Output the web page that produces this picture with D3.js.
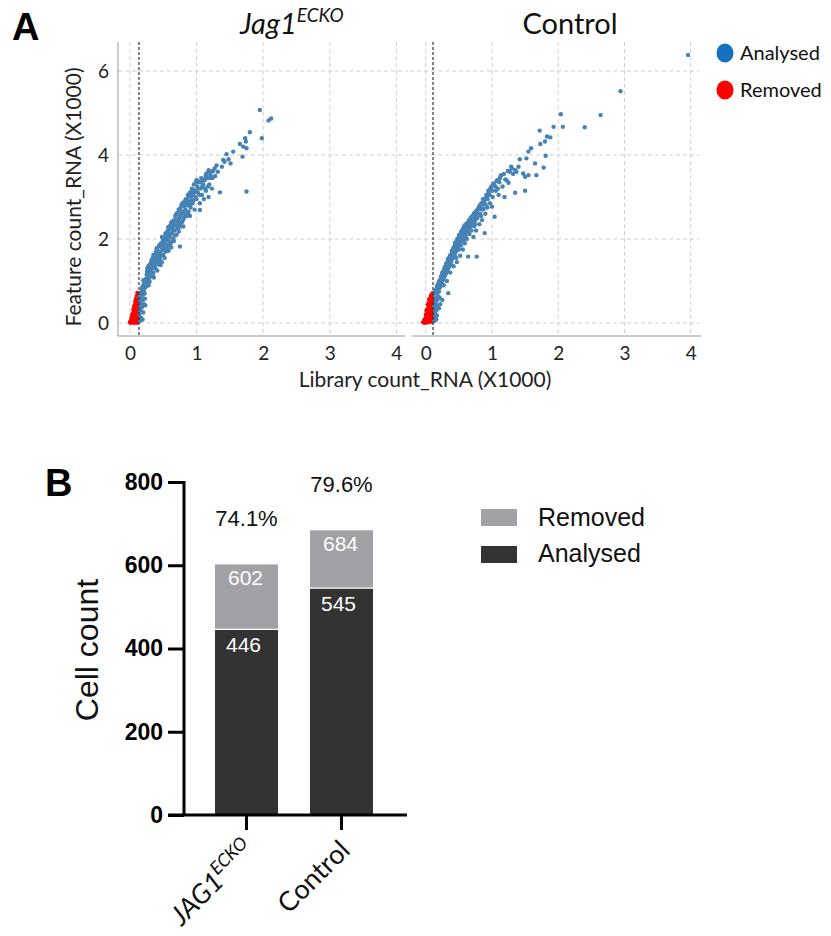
<!DOCTYPE html>
<html><head><meta charset="utf-8">
<script src="https://cdn.jsdelivr.net/npm/d3@7"></script>
<style>body{margin:0;background:#fff}svg{display:block}</style>
</head><body>
<svg id="c" width="831" height="936"></svg>
<script>
// ---------- Panel A data (Library count, Feature count, in X1000) ----------
const jagAnalysed = [
[0.15,0.05],[0.17,0.12],[0.14,0.2],[0.19,0.08],[0.16,0.3],[0.18,0.38],[0.21,0.45],[0.15,0.5],[0.23,0.42],[0.2,0.25],[0.14,0.62],[0.17,0.55],
[0.16,0.72],[0.18,0.8],[0.2,0.9],[0.19,0.68],[0.21,0.78],[0.22,0.95],[0.2,1.02],[0.23,0.85],[0.24,1.05],[0.22,0.7],
[0.25,1.15],[0.26,0.95],[0.27,1.25],[0.28,1.05],[0.26,1.3],[0.29,1.2],[0.3,1.4],[0.28,0.9],[0.31,1.1],[0.3,1.28],[0.27,1.12],[0.32,1.48],[0.33,1.3],
[0.34,1.55],[0.35,1.2],[0.36,1.4],[0.35,1.62],[0.37,1.5],[0.38,1.3],[0.39,1.7],[0.4,1.45],[0.38,1.58],[0.41,1.25],[0.4,1.78],[0.42,1.62],[0.36,1.08],[0.43,1.4],
[0.44,1.85],[0.45,1.55],[0.46,1.7],[0.47,1.9],[0.48,1.45],[0.46,1.38],[0.49,1.8],[0.5,2.0],[0.5,1.62],[0.48,2.05],[0.51,1.75],[0.52,1.9],[0.53,2.12],[0.52,1.55],[0.54,1.7],
[0.55,2.05],[0.56,1.85],[0.57,2.2],[0.58,1.95],[0.56,2.15],[0.59,2.3],[0.6,2.05],[0.58,1.72],[0.61,1.9],[0.6,2.25],[0.62,2.4],[0.63,2.15],[0.62,1.8],
[0.64,2.3],[0.65,2.0],[0.66,2.45],[0.67,2.2],[0.68,2.55],[0.69,2.35],[0.7,2.1],[0.7,2.6],[0.71,2.45],[0.72,2.25],[0.73,2.7],[0.66,1.95],
[0.74,2.5],[0.75,2.35],[0.76,2.75],[0.77,2.6],[0.78,2.4],[0.79,2.85],[0.8,2.65],[0.81,2.5],[0.82,2.9],[0.8,2.3],
[0.83,2.7],[0.84,2.95],[0.85,2.55],[0.86,2.8],[0.87,3.05],[0.88,2.65],[0.89,2.9],[0.9,3.1],[0.91,2.75],[0.92,3.0],[0.9,2.55],
[0.93,3.2],[0.94,2.85],[0.95,3.05],[0.96,3.3],[0.97,2.7],[0.98,3.15],[0.99,3.35],[1.0,2.95],[1.01,3.25],[1.0,3.4],[1.02,3.1],
[1.03,3.35],[1.05,2.85],[1.06,3.2],[1.07,3.45],[1.08,3.05],[1.1,3.3],[1.11,2.95],[1.12,3.4],[1.14,3.15],[1.15,3.55],[1.17,3.25],[1.18,3.0],[1.2,3.45],[1.22,3.6],[1.25,3.62],[1.23,3.2],[1.05,2.69],
[1.28,3.5],[1.3,3.75],[1.38,3.72],[1.4,3.88],[1.45,4.02],[1.51,3.8],[1.35,3.11],[1.55,4.08],[1.65,4.26],[1.69,3.96],[1.7,4.2],[1.73,4.4],[1.74,4.32],[1.75,4.16],[1.75,3.13],
[1.8,4.54],[1.95,5.07],[1.98,4.4],[2.08,4.82],[2.12,4.87],[0.75,1.82],[1.18,3.64],[1.2,3.6],[1.15,3.56],
[0.185,0.86],[0.205,0.72],[0.215,0.98],[0.235,1.0],[0.245,0.88],[0.255,1.22],[0.265,1.02],[0.275,1.35],[0.285,1.18],[0.295,0.98],[0.305,1.32],[0.315,1.22],
[0.325,1.38],[0.335,1.5],[0.345,1.15],[0.355,1.45],[0.365,1.58],[0.375,1.35],[0.385,1.66],[0.395,1.52],[0.405,1.6],[0.415,1.72],[0.425,1.5],[0.435,1.82],
[0.445,1.68],[0.455,1.48],[0.465,1.88],[0.475,1.62],[0.485,1.78],[0.495,1.95],[0.505,1.85],[0.515,2.02],[0.525,1.72],[0.535,1.98],[0.545,2.15],[0.555,1.78],
[0.565,2.0],[0.575,2.28],[0.585,2.1],[0.595,1.85],[0.605,2.32],[0.615,2.12],[0.625,2.25],[0.635,1.95],[0.645,2.42],[0.655,2.22],[0.665,2.35],[0.675,2.08],
[0.685,2.45],[0.695,2.58],[0.705,2.3],[0.715,2.62],[0.725,2.42],[0.735,2.18],[0.745,2.68],[0.755,2.55],[0.765,2.3],[0.775,2.82],[0.785,2.62],[0.795,2.45],
[0.815,2.78],[0.825,2.58],[0.845,2.82],[0.855,2.95],[0.865,2.62],[0.875,2.88],[0.895,3.02],[0.905,2.82],[0.915,3.12],[0.925,2.9],[0.945,3.18],[0.955,2.92],
[0.965,3.12],[0.985,3.0],[1.015,3.38],[1.025,3.2],[1.045,3.05],[1.065,3.35],[1.085,3.25],[1.105,3.42],[1.125,3.2],[1.135,3.5],[1.165,3.45],[1.19,3.3],
[1.21,3.52],[1.24,3.45],[1.27,3.68],[1.32,3.6],[1.42,3.84],[1.48,3.9],[0.145,0.35],[0.165,0.45],[0.175,0.62],[0.195,0.55],[0.155,0.65],[0.225,0.58]
];
const jagRemoved = [
[0.0,0.02],[0.01,0.05],[0.02,0.03],[0.03,0.08],[0.04,0.02],[0.05,0.06],[0.06,0.1],[0.07,0.04],[0.08,0.08],[0.09,0.03],[0.1,0.06],[0.11,0.1],[0.12,0.05],
[0.02,0.12],[0.04,0.15],[0.06,0.18],[0.08,0.14],[0.1,0.2],[0.12,0.16],[0.03,0.2],[0.05,0.25],[0.07,0.28],[0.09,0.24],[0.11,0.3],[0.13,0.22],
[0.05,0.32],[0.07,0.36],[0.09,0.4],[0.11,0.38],[0.12,0.44],[0.06,0.4],[0.08,0.46],[0.1,0.5],[0.12,0.55],[0.08,0.52],[0.09,0.58],[0.11,0.6],
[0.1,0.64],[0.12,0.68],[0.11,0.72],[0.13,0.62],[0.13,0.35],[0.13,0.08],[0.01,0.0],[0.06,0.0],[0.1,0.0],[0.04,0.1],[0.07,0.2],[0.09,0.32],
[0.1,0.42],[0.12,0.28],[0.11,0.52],[0.13,0.48]
];
const ctlAnalysed = [
[0.13,0.05],[0.15,0.12],[0.14,0.22],[0.16,0.3],[0.13,0.4],[0.17,0.18],[0.15,0.5],[0.18,0.42],[0.14,0.6],[0.2,0.35],[0.16,0.08],[0.34,0.71],[0.25,0.55],[0.21,0.6],
[0.13,0.72],[0.15,0.78],[0.16,0.7],[0.17,0.88],[0.18,0.8],[0.19,0.95],[0.2,0.75],[0.21,1.0],[0.22,0.88],[0.23,1.1],[0.24,0.95],[0.25,1.2],[0.26,1.05],[0.27,0.9],
[0.28,1.28],[0.29,1.12],[0.3,1.35],[0.31,1.2],[0.32,1.0],[0.33,1.45],[0.34,1.3],[0.35,1.55],[0.36,1.38],[0.37,1.2],[0.38,1.62],[0.39,1.48],[0.4,1.72],[0.41,1.55],
[0.42,1.35],[0.43,1.8],[0.44,1.62],[0.45,1.9],[0.46,1.7],[0.47,1.45],[0.48,1.95],[0.49,1.8],[0.5,2.05],[0.51,1.88],[0.52,1.6],[0.53,2.12],[0.54,1.95],[0.55,2.2],
[0.56,1.75],[0.57,2.05],[0.58,2.28],[0.59,1.9],[0.6,2.15],[0.61,2.35],[0.62,2.0],[0.63,2.25],[0.64,1.58],[0.65,2.42],[0.66,2.12],[0.67,2.32],[0.68,2.5],[0.69,2.2],
[0.7,2.4],[0.71,2.55],[0.72,2.05],[0.73,2.3],[0.74,2.62],[0.75,2.45],[0.76,2.2],[0.77,2.68],[0.78,2.5],[0.8,2.75],[0.81,2.35],[0.82,2.6],[0.84,2.85],[0.85,2.45],
[0.86,2.7],[0.88,2.9],[0.89,2.14],[0.9,2.6],[0.92,3.0],[0.93,2.75],[0.95,3.1],[0.97,2.85],[0.99,3.25],[1.0,2.77],[1.01,3.0],[1.03,3.3],[1.04,2.53],[1.06,3.15],
[1.08,3.4],[1.1,3.05],[1.12,3.45],[1.14,3.52],[1.16,3.25],[1.19,3.0],[1.22,3.4],[1.25,3.34],[1.27,3.6],[1.29,3.72],[1.3,3.68],[1.35,3.64],[1.37,3.6],[1.4,3.72],
[1.42,3.9],[1.35,3.1],[1.47,3.56],[1.5,3.48],[1.5,3.15],[1.52,3.92],[1.55,3.52],[1.55,4.08],[1.59,4.16],[1.65,3.8],[1.67,3.52],[1.72,4.58],[1.73,4.26],[1.78,3.7],
[1.8,4.32],[1.81,3.98],[1.83,4.44],[1.88,4.42],[1.93,4.67],[2.04,4.97],[2.07,4.67],[2.4,4.66],[2.64,4.95],[2.94,5.52],[3.96,6.38],[0.77,1.58],
[0.31,1.42],[0.33,1.25],[0.36,1.5],[0.39,1.65],[0.42,1.7],[0.44,1.85],[0.47,1.92],[0.5,1.75],[0.53,1.85],[0.56,2.1],[0.59,2.18],[0.62,2.28],[0.65,2.3],
[0.68,2.38],[0.72,2.48],[0.58,2.0],[0.46,1.55],[0.38,1.4],[0.27,1.15],[0.24,1.08],[0.2,0.92],
[0.145,0.75],[0.165,0.82],[0.175,0.7],[0.185,0.9],[0.195,0.82],[0.205,1.0],[0.215,0.85],[0.225,1.05],[0.235,0.98],[0.245,1.15],[0.255,1.02],[0.265,1.22],
[0.275,1.08],[0.285,1.32],[0.295,1.25],[0.305,1.18],[0.315,1.38],[0.325,1.32],[0.335,1.52],[0.345,1.42],[0.355,1.35],[0.365,1.6],[0.375,1.48],[0.385,1.55],
[0.395,1.72],[0.405,1.62],[0.415,1.78],[0.425,1.6],[0.435,1.72],[0.445,1.92],[0.455,1.78],[0.465,1.88],[0.475,2.0],[0.485,1.85],[0.495,1.98],[0.505,2.1],
[0.515,1.95],[0.525,2.05],[0.535,2.18],[0.545,2.08],[0.555,1.98],[0.565,2.25],[0.575,2.15],[0.585,2.32],[0.595,2.22],[0.605,2.08],[0.615,2.3],[0.625,2.38],
[0.635,2.18],[0.645,2.35],[0.655,2.45],[0.665,2.28],[0.675,2.42],[0.685,2.52],[0.695,2.35],[0.705,2.5],[0.715,2.4],[0.725,2.6],[0.735,2.52],[0.745,2.35],
[0.755,2.65],[0.765,2.55],[0.785,2.7],[0.795,2.6],[0.815,2.8],[0.825,2.72],[0.835,2.55],[0.855,2.82],[0.865,2.95],[0.875,2.72],[0.895,2.95],[0.905,2.82],
[0.915,3.05],[0.935,2.95],[0.945,3.15],[0.965,3.05],[0.975,3.2],[1.005,3.15],[1.02,3.32],[1.05,3.25],[1.07,3.38],[1.09,3.2],[1.11,3.35],[1.13,3.5],
[1.18,3.55],[1.2,3.42],[1.24,3.62],[1.32,3.55],[0.155,0.4],[0.175,0.55],[0.19,0.62],[0.145,0.3],[0.22,0.45]
];
const ctlRemoved = [
[-0.04,0.02],[-0.02,0.0],[0.0,0.04],[0.02,0.01],[0.04,0.05],[0.06,0.02],[0.08,0.06],[0.1,0.03],[0.11,0.08],[-0.02,0.08],[0.0,0.12],[0.02,0.1],[0.04,0.15],
[0.06,0.12],[0.08,0.18],[0.1,0.14],[0.0,0.2],[0.02,0.24],[0.04,0.22],[0.06,0.28],[0.08,0.25],[0.1,0.3],[0.11,0.2],[0.01,0.3],[0.03,0.35],[0.05,0.38],
[0.07,0.34],[0.09,0.4],[0.11,0.36],[0.03,0.44],[0.05,0.48],[0.07,0.45],[0.09,0.52],[0.11,0.48],[0.05,0.56],[0.07,0.6],[0.09,0.58],[0.11,0.62],[0.08,0.66],
[0.1,0.7],[0.11,0.55],[0.1,0.45],[0.11,0.72],[0.06,0.5],[0.0,0.06],[0.04,0.32],[0.08,0.1]
];
const scatterTicksX = [0, 1, 2, 3, 4];
const scatterTicksY = [0, 2, 4, 6];
const thresholds = [0.135, 0.11];

// ---------- Panel B data ----------
const categories = ["JAG1ECKO", "Control"];
const analysedCounts = [446, 545];
const totalCounts = [602, 684];
const percentLabels = ["74.1%", "79.6%"];
const countTicks = [0, 200, 400, 600, 800];

const svg = d3.select("#c");
const LATO = "Lato, 'Open Sans', sans-serif";
const ARIAL = "'Liberation Sans', Arial, sans-serif";

// ---------- Panel A ----------
const y = d3.scaleLinear().domain([-0.31, 6.69]).range([336, 42]);
const panels = [
  {x: d3.scaleLinear().domain([-0.18, 4.13]).range([118, 405]), gx: [118, 408], a: jagAnalysed, r: jagRemoved, th: thresholds[0], yaxis: true},
  {x: d3.scaleLinear().domain([-0.207, 4.155]).range([412, 701]), gx: [410, 699], a: ctlAnalysed, r: ctlRemoved, th: thresholds[1], yaxis: false}
];
panels.forEach(p => {
  const g = svg.append("g");
  g.selectAll(".hg").data(scatterTicksY).join("line")
    .attr("x1", p.gx[0]).attr("x2", p.gx[1]).attr("y1", d => y(d)).attr("y2", d => y(d))
    .attr("stroke", "#cfcfcf").attr("stroke-dasharray", "4,3");
  g.selectAll(".vg").data(scatterTicksX).join("line")
    .attr("x1", d => p.x(d)).attr("x2", d => p.x(d)).attr("y1", 42).attr("y2", 336)
    .attr("stroke", "#cfcfcf").attr("stroke-dasharray", "4,3");
  g.selectAll(".ra").data(p.r).join("circle")
    .attr("cx", d => p.x(d[0])).attr("cy", d => y(d[1])).attr("r", 2.1).attr("fill", "#ff0000");
  g.selectAll(".pa").data(p.a).join("circle")
    .attr("cx", d => p.x(d[0])).attr("cy", d => y(d[1])).attr("r", 2.2).attr("fill", "#4682b4");
  g.append("line").attr("x1", p.x(p.th)).attr("x2", p.x(p.th)).attr("y1", 42).attr("y2", 336)
    .attr("stroke", "#333").attr("stroke-width", 1.2).attr("stroke-dasharray", "3,2");
  const ax = d3.axisBottom(p.x).tickValues(scatterTicksX).tickSize(0).tickPadding(8).tickFormat(d3.format("d"));
  const axg = g.append("g").attr("transform", "translate(0,336)").call(ax);
  axg.select(".domain").attr("stroke", "#999").attr("d", `M${p.x.range()[0]},0H${p.x.range()[1]}`);
  axg.selectAll("text").attr("font-family", LATO).attr("font-size", 19).attr("fill", "#222").attr("dy", "0.85em");
  if (p.yaxis) {
    const ay = d3.axisLeft(y).tickValues(scatterTicksY).tickSize(0).tickPadding(9).tickFormat(d3.format("d"));
    const ayg = g.append("g").attr("transform", `translate(${p.x.range()[0]},0)`).call(ay);
    ayg.select(".domain").attr("stroke", "#999").attr("d", "M0,42V336");
    ayg.selectAll("text").attr("font-family", LATO).attr("font-size", 19).attr("fill", "#222");
  }
});
const t1 = svg.append("text").attr("x", 240).attr("y", 34).attr("font-family", LATO).attr("font-style", "italic").attr("font-size", 29).attr("fill", "#111");
t1.append("tspan").text("Jag1");
t1.append("tspan").attr("dy", -12).attr("font-size", 19).text("ECKO");
svg.append("text").attr("x", 570).attr("y", 34).attr("text-anchor", "middle").attr("font-family", LATO).attr("font-size", 29).attr("fill", "#111").text("Control");
svg.append("text").attr("x", 425).attr("y", 387).attr("text-anchor", "middle").attr("font-family", LATO).attr("font-size", 21).attr("fill", "#222").text("Library count_RNA (X1000)");
svg.append("text").attr("transform", "translate(81,197) rotate(-90)").attr("text-anchor", "middle").attr("font-family", LATO).attr("font-size", 21).attr("fill", "#222").text("Feature count_RNA (X1000)");
const legA = [["Analysed", "#1570c0"], ["Removed", "#ff0000"]];
legA.forEach((l, i) => {
  svg.append("ellipse").attr("cx", 725).attr("cy", 53 + i * 37).attr("rx", 8.5).attr("ry", 9.5).attr("fill", l[1]);
  svg.append("text").attr("x", 740).attr("y", 60 + i * 37).attr("font-family", LATO).attr("font-size", 20).attr("fill", "#111").text(l[0]);
});
svg.append("text").attr("x", 12).attr("y", 40).attr("font-family", ARIAL).attr("font-weight", "bold").attr("font-size", 38).text("A");

// ---------- Panel B ----------
const xb = d3.scaleBand().domain(categories).range([199, 389]).paddingInner(0.337).paddingOuter(0.1685);
const yb = d3.scaleLinear().domain([0, 800]).range([815, 482]);
const bw = xb.bandwidth();
const rows = categories.map((c, i) => ({c, a: analysedCounts[i], t: totalCounts[i], p: percentLabels[i]}));
const gb = svg.append("g");
gb.selectAll(".rem").data(rows).join("rect")
  .attr("x", d => xb(d.c)).attr("width", bw).attr("y", d => yb(d.t)).attr("height", d => yb(d.a) - yb(d.t))
  .attr("fill", "#a2a1a6");
gb.selectAll(".ana").data(rows).join("rect")
  .attr("x", d => xb(d.c)).attr("width", bw).attr("y", d => yb(d.a)).attr("height", d => yb(0) - yb(d.a))
  .attr("fill", "#333333");
gb.selectAll(".sep").data(rows).join("line")
  .attr("x1", d => xb(d.c)).attr("x2", d => xb(d.c) + bw).attr("y1", d => yb(d.a)).attr("y2", d => yb(d.a))
  .attr("stroke", "#fff").attr("stroke-width", 1.2);
gb.selectAll(".lt").data(rows).join("text")
  .attr("x", d => xb(d.c) + bw / 2 - 1).attr("y", d => yb(d.t) + 21).attr("text-anchor", "middle")
  .attr("font-family", ARIAL).attr("font-size", 21).attr("fill", "#fff").text(d => d.t);
gb.selectAll(".la").data(rows).join("text")
  .attr("x", d => xb(d.c) + bw / 2 - 3).attr("y", d => yb(d.a) + 23).attr("text-anchor", "middle")
  .attr("font-family", ARIAL).attr("font-size", 21).attr("fill", "#fff").text(d => d.a);
gb.selectAll(".pl").data(rows).join("text")
  .attr("x", d => xb(d.c) + bw / 2).attr("y", d => yb(d.t) - 38).attr("text-anchor", "middle")
  .attr("font-family", ARIAL).attr("font-size", 22).attr("fill", "#111").text(d => d.p);
const ayb = d3.axisLeft(yb).tickValues(countTicks).tickSize(16).tickPadding(5);
const aybg = gb.append("g").attr("transform", "translate(184,0)").call(ayb);
aybg.select(".domain").attr("stroke", "#000").attr("stroke-width", 3).attr("d", "M0,481V816");
aybg.selectAll(".tick line").attr("stroke", "#000").attr("stroke-width", 3);
aybg.selectAll("text").attr("font-family", ARIAL).attr("font-weight", "bold").attr("font-size", 23).attr("fill", "#000");
const axb = d3.axisBottom(xb).tickSize(15).tickFormat("");
const axbg = gb.append("g").attr("transform", "translate(0,815)").call(axb);
axbg.select(".domain").attr("stroke", "#000").attr("stroke-width", 3).attr("d", "M168,0H407");
axbg.selectAll(".tick line").attr("stroke", "#000").attr("stroke-width", 3);
categories.forEach(c => {
  const cx = xb(c) + bw / 2;
  const t = gb.append("text").attr("transform", `translate(${cx + 10},852) rotate(-45)`).attr("text-anchor", "end")
    .attr("font-family", LATO).attr("font-size", 27).attr("fill", "#111");
  if (c === "JAG1ECKO") {
    t.attr("font-style", "italic");
    t.append("tspan").text("JAG1");
    t.append("tspan").attr("dy", -11).attr("font-size", 18).text("ECKO");
  } else {
    t.text(c);
  }
});
svg.append("text").attr("transform", "translate(98,650) rotate(-90)").attr("text-anchor", "middle")
  .attr("font-family", ARIAL).attr("font-size", 32).attr("fill", "#111").text("Cell count");
const legB = [["Removed", "#a2a1a6"], ["Analysed", "#333333"]];
legB.forEach((l, i) => {
  svg.append("rect").attr("x", 481).attr("y", 509 + i * 37).attr("width", 36).attr("height", 17).attr("fill", l[1]);
  svg.append("text").attr("x", 538).attr("y", 526 + i * 36).attr("font-family", ARIAL).attr("font-size", 25).attr("fill", "#111").text(l[0]);
});
svg.append("text").attr("x", 45).attr("y", 496).attr("font-family", ARIAL).attr("font-weight", "bold").attr("font-size", 38).text("B");
</script>
</body></html>
